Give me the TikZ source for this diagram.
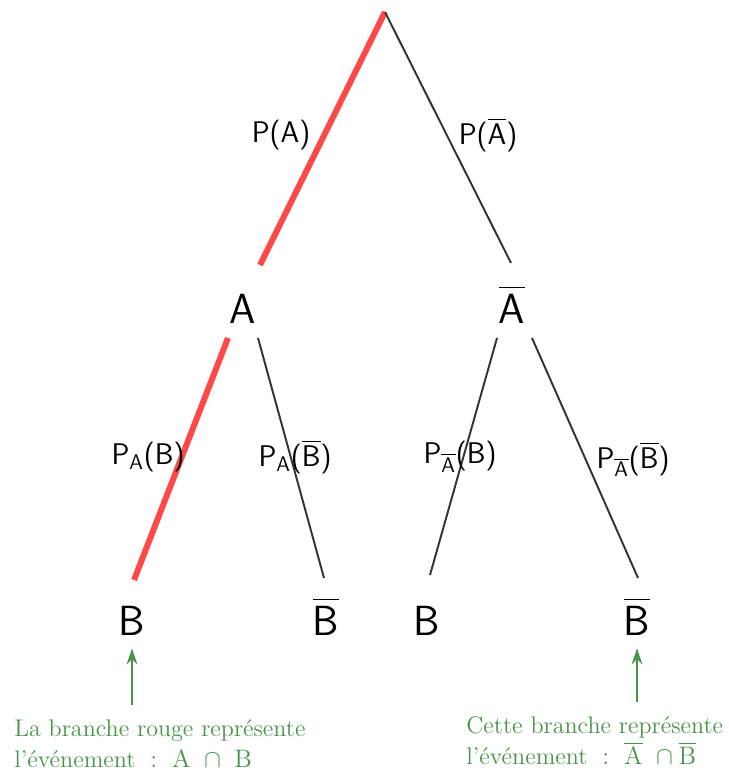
\documentclass[tikz,border=0pt]{standalone}
\usepackage{amsmath}
\usepackage{tikz}
\usetikzlibrary{arrows.meta, positioning, calc}
\definecolor{branchred}{RGB}{255,72,72}
\definecolor{notegreen}{RGB}{72,148,72}
\tikzset{
  tree node/.style={
    inner sep=0pt, anchor=base, font=\sffamily\fontsize{24}{26}\selectfont
  },
  prob label/.style={
    inner sep=1pt, font=\sffamily\fontsize{17}{19}\selectfont
  },
  tree edge/.style={
    line width=1.1pt, draw=black!80
  },
  red edge/.style={
    tree edge, line width=3.4pt, draw=branchred
  },
  note text/.style={
    align=left, text=notegreen, inner sep=0pt,
    font=\fontsize{13.7}{17.6}\selectfont, anchor=north west
  },
  note arrow/.style={
    -{Stealth[length=9pt,width=6pt]}, line width=1.4pt, draw=notegreen,
    shorten <=0.28cm, shorten >=0.26cm
  }
}
\begin{document}
\begin{tikzpicture}[x=0.02cm, y=-0.02cm]
  \useasboundingbox (0,0) rectangle (728,773);
  % Level 0 and 1
  \coordinate (root) at (385,12);
  \node (A) [tree node] at (243,323) {A};
  \node (Ab) [tree node] at (512,323) {$\overline{\mbox{A}}$};
  % Level 2
  \node (AB) [tree node] at (132,635) {B};
  \node (ABb) [tree node] at (326,635) {$\overline{\mbox{B}}$};
  \node (AbB) [tree node] at (427,635) {B};
  \node (AbBb) [tree node] at (637,635) {$\overline{\mbox{B}}$};

  \draw [red edge] (root) -- ($(A.base)+(17,-58)$);
  \draw [tree edge] (root) -- ($(Ab.base)+(-1,-60)$);
  \draw [red edge] ($(A.base)+(-15,15)$) -- ($(AB.base)+(2,-55)$);
  \draw [tree edge] ($(A.base)+(15,15)$) -- ($(ABb.base)+(-2,-57)$);
  \draw [tree edge] ($(Ab.base)+(-15,15)$) -- ($(AbB.base)+(3,-60)$);
  \draw [tree edge] ($(Ab.base)+(20,15)$) -- ($(AbBb.base)+(1,-57)$);

  % probabilities
  \node (pA) [prob label] at (281,135) {P(A)};
  \node (pAb) [prob label] at (488,135) {P($\overline{\mbox{A}}$)};
  \node (pAB) [prob label] at (148,457) {P$_{\mathsf{A}}$(B)};
  \node (pABb) [prob label] at (295,457) {P$_{\mathsf{A}}$($\overline{\mbox{B}}$)};
  \node (pAbB) [prob label] at (460,457) {P$_{\overline{\mathsf{A}}}$(B)};
  \node (pAbBb) [prob label] at (633,459) {P$_{\overline{\mathsf{A}}}$($\overline{\mbox{B}}$)};

  % notes
  \node (noteL) [note text] at (14,719) {La branche rouge représente\\l'événement $\;:\;$ $\mathrm{A}\ \cap\ \mathrm{B}$};
  \node (noteR) [note text] at (466,716) {Cette branche représente\\l'événement $\;:\;$ $\overline{\mathrm{A}}\ \cap\overline{\mathrm{B}}$};
  \draw [note arrow] (noteL.north -| AB) -- (AB.south);
  \draw [note arrow] (noteR.north -| AbBb) -- (AbBb.south);
\end{tikzpicture}
\end{document}
